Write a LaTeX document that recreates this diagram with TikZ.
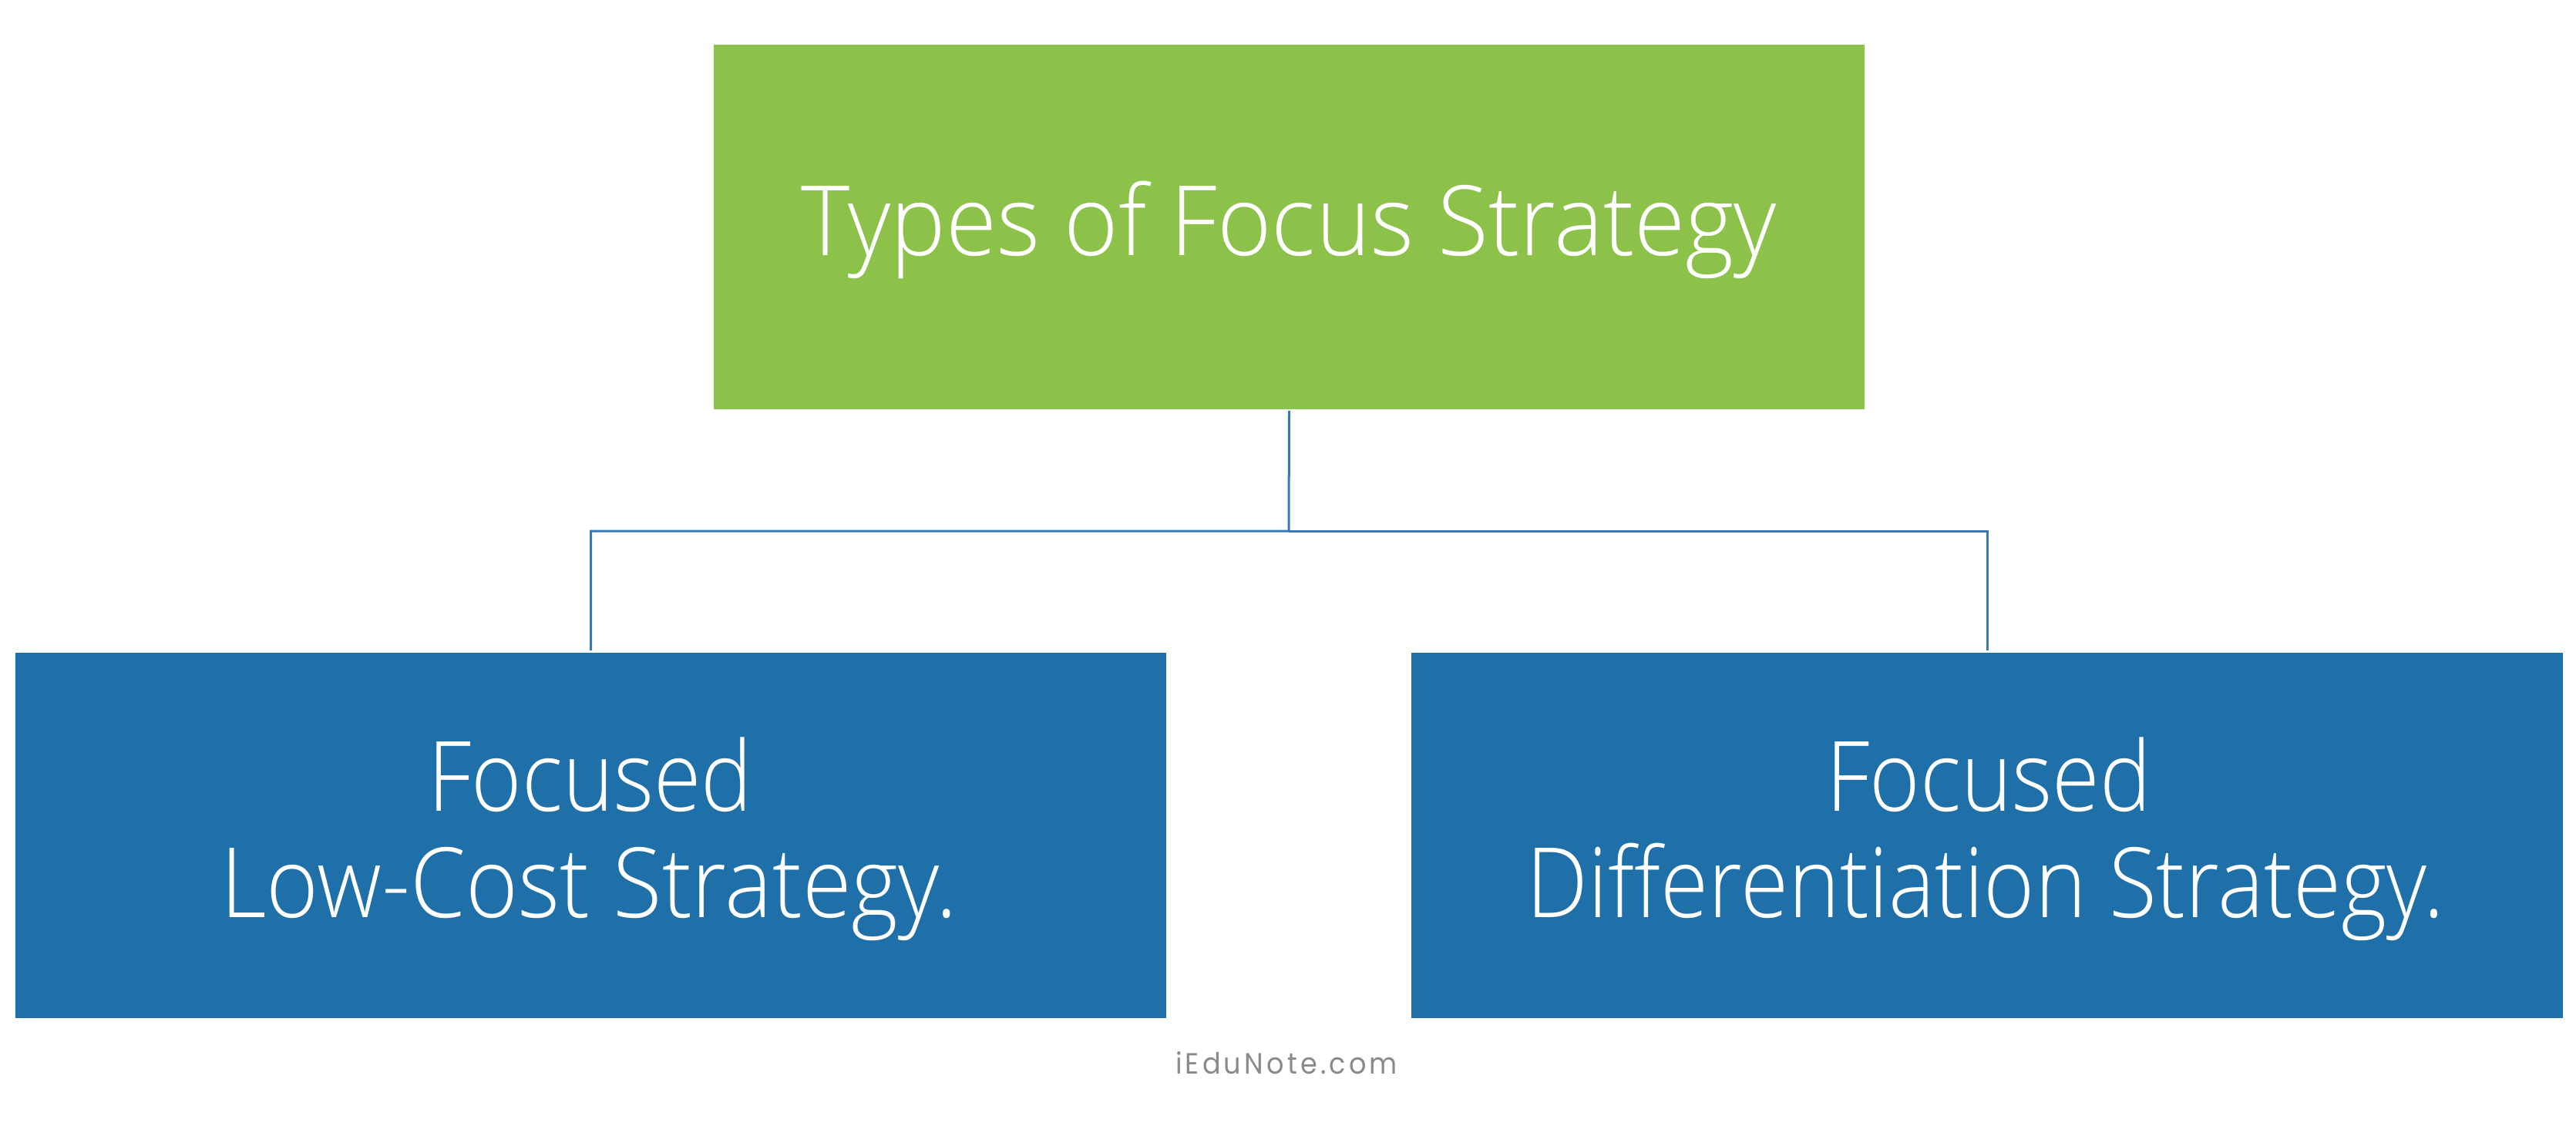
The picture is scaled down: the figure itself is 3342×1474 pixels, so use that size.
\documentclass[tikz,border=0pt]{standalone}
\usepackage{fontspec}
\setmainfont{Open Sans}[UprightFont={* Light}]
\newfontfamily\wmfont{Poppins}[LetterSpace=12]
\usepackage{graphicx}
\definecolor{leafgreen}{HTML}{8CC24A}
\definecolor{boxblue}{HTML}{1F6FA8}
\definecolor{linkblue}{HTML}{3A78B2}
\definecolor{wmgray}{HTML}{8A8A8A}
\tikzset{
  greenbox/.style={rectangle, fill=leafgreen, draw=none, inner sep=0pt},
  bluebox/.style={rectangle, fill=boxblue, draw=none, inner sep=0pt},
  boxtext/.style={text=white, inner sep=0pt, anchor=base, font=\fontsize{126}{138}\selectfont},
  link/.style={draw=linkblue, line width=3pt},
  wmtext/.style={text=wmgray, inner sep=0pt, anchor=base, font=\wmfont\fontsize{38}{44}\selectfont}
}
\begin{document}
\begin{tikzpicture}[x=1pt,y=-1pt]
\useasboundingbox (0,0) rectangle (3342,1474);
% boxes
\node[greenbox, minimum width=1493pt, minimum height=473pt] (top) at (1672.5,294.5) {};
\node[bluebox, minimum width=1493pt, minimum height=474pt] (lbox) at (766.5,1084) {};
\node[bluebox, minimum width=1494pt, minimum height=474pt] (rbox) at (2578,1084) {};
% texts
\node[boxtext] (ttitle) at (1672,331) {\resizebox{1265pt}{\height}{Types of Focus Strategy}};
\node[boxtext] (tl1) at (766,1052) {\resizebox{421pt}{\height}{Focused}};
\node[boxtext] (tl2) at (764,1190) {\resizebox{955pt}{\height}{Low-Cost Strategy.}};
\node[boxtext] (tr1) at (2580,1052) {\resizebox{422pt}{\height}{Focused}};
\node[boxtext] (tr2) at (2576,1190) {\resizebox{1190pt}{\height}{Differentiation Strategy.}};
% connectors
\coordinate (mid) at (1672,689);
\draw[link] ([yshift=-2pt]top.south) -- (mid) -| ([yshift=3pt]lbox.north);
\draw[link] (mid) -| ([yshift=3pt]rbox.north);
% watermark
\node[wmtext] (wm) at (1669,1393) {\resizebox{288pt}{\height}{iEduNote.com}};
\end{tikzpicture}
\end{document}
